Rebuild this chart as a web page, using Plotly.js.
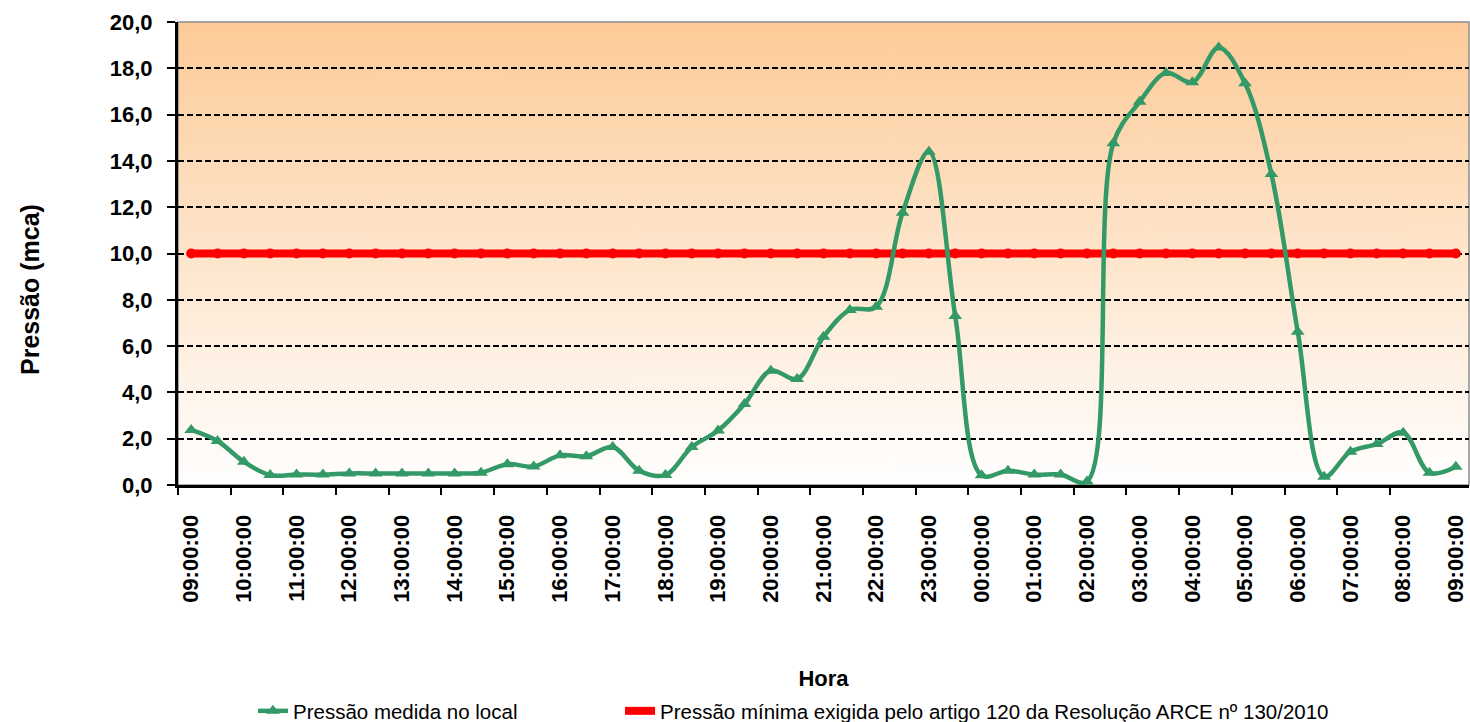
<!DOCTYPE html>
<html>
<head>
<meta charset="utf-8">
<script src="https://cdn.plot.ly/plotly-3.0.1.min.js"></script>
<style>
html,body{margin:0;padding:0;background:#fff;}
#chart{width:1470px;height:722px;}
</style>
</head>
<body>
<div id="chart"></div>
<script>
// Horários das medições (a cada 30 minutos)
var horas = ["09:00:00","09:30:00","10:00:00","10:30:00","11:00:00","11:30:00","12:00:00","12:30:00",
  "13:00:00","13:30:00","14:00:00","14:30:00","15:00:00","15:30:00","16:00:00","16:30:00",
  "17:00:00","17:30:00","18:00:00","18:30:00","19:00:00","19:30:00","20:00:00","20:30:00",
  "21:00:00","21:30:00","22:00:00","22:30:00","23:00:00","23:30:00","00:00:00","00:30:00",
  "01:00:00","01:30:00","02:00:00","02:30:00","03:00:00","03:30:00","04:00:00","04:30:00",
  "05:00:00","05:30:00","06:00:00","06:30:00","07:00:00","07:30:00","08:00:00","08:30:00","09:00:00"];

// Pressão medida no local (mca)
var pressaoMedida = [2.38,1.90,1.00,0.43,0.45,0.45,0.50,0.50,
  0.50,0.50,0.50,0.53,0.90,0.80,1.28,1.24,
  1.64,0.62,0.43,1.64,2.35,3.50,4.94,4.58,
  6.40,7.56,7.70,11.76,14.40,7.30,0.42,0.62,
  0.45,0.45,0.15,14.76,16.55,17.80,17.40,18.90,
  17.35,13.43,6.62,0.36,1.44,1.77,2.26,0.53,0.79];

// Pressão mínima exigida (mca)
var pressaoMinima = [10,10,10,10,10,10,10,10,10,10,10,10,10,10,10,10,
  10,10,10,10,10,10,10,10,10,10,10,10,10,10,10,10,
  10,10,10,10,10,10,10,10,10,10,10,10,10,10,10,10,10];

// Rótulos do eixo X (a cada hora)
var rotulosX = horas.filter(function(h, i){ return i % 2 === 0; });

var idx = horas.map(function(h, i){ return i; });
var tickPos = idx.filter(function(i){ return i % 2 === 0; });
var minorPos = [];
for (var k = 0; k < horas.length - 1; k += 2) { minorPos.push(k - 0.5); }

// Gradient background image
var cv = document.createElement('canvas');
cv.width = 10; cv.height = 400;
var ctx = cv.getContext('2d');
var g = ctx.createLinearGradient(0, 0, 0, 400);
g.addColorStop(0, '#FDCB98');
g.addColorStop(1, '#FFFFFF');
ctx.fillStyle = g;
ctx.fillRect(0, 0, 10, 400);
var bgURL = cv.toDataURL('image/png');

var FONT = 'Arial, "Liberation Sans", sans-serif';

var traces = [
  {
    x: idx, y: pressaoMinima,
    type: 'scatter', mode: 'lines',
    name: 'Pressão mínima exigida pelo artigo 120 da Resolução ARCE nº 130/2010',
    legend: 'legend2',
    line: {color: '#FF0000', width: 8},
    hoverinfo: 'skip'
  },
  {
    x: idx, y: pressaoMinima,
    type: 'scatter', mode: 'markers',
    showlegend: false,
    marker: {color: '#FF0000', size: 10, symbol: 'circle'},
    hoverinfo: 'skip'
  },
  {
    x: idx, y: pressaoMedida,
    type: 'scatter', mode: 'lines+markers',
    name: 'Pressão medida no local',
    legend: 'legend',
    line: {color: '#339966', width: 4.5, shape: 'spline', smoothing: 1},
    marker: {color: '#339966', size: 12, symbol: 'triangle-up'}
  }
];

var legendBase = {
  orientation: 'h',
  xref: 'container', yref: 'container',
  xanchor: 'left', yanchor: 'middle', y: 0.0152,
  font: {family: FONT, size: 20.5, color: '#000000'},
  bgcolor: 'rgba(0,0,0,0)'
};

var layout = {
  width: 1470, height: 722,
  margin: {l: 178, r: 1, t: 22, b: 237},
  paper_bgcolor: '#FFFFFF',
  plot_bgcolor: 'rgba(0,0,0,0)',
  separators: ',.',
  font: {family: FONT, color: '#000000'},
  showlegend: true,
  images: [{
    source: bgURL, xref: 'paper', yref: 'paper',
    x: 0, y: 1, sizex: 1, sizey: 1, sizing: 'stretch',
    xanchor: 'left', yanchor: 'top', layer: 'below'
  }],
  shapes: [{
    type: 'rect', xref: 'paper', yref: 'paper', x0: 0, x1: 1, y0: 0, y1: 1,
    line: {color: '#8C8C8C', width: 1.5}, layer: 'below'
  }],
  annotations: [{
    text: '<b>Pressão (mca)</b>',
    xref: 'paper', yref: 'paper',
    x: -148 / 1291, y: (485 - 290) / 463,
    xanchor: 'center', yanchor: 'middle',
    textangle: -90, showarrow: false,
    font: {family: FONT, size: 25, color: '#000000'}
  }],
  xaxis: {
    range: [-0.5, horas.length - 0.5],
    tickmode: 'array', tickvals: tickPos, ticktext: rotulosX,
    tickangle: -90,
    ticks: '',
    ticklabelstandoff: 18,
    tickfont: {family: FONT, size: 22, color: '#000000', weight: 'bold'},
    showgrid: false, zeroline: false,
    showline: true, linecolor: '#000000', linewidth: 3,
    minor: {tickmode: 'array', tickvals: minorPos, ticks: 'outside', ticklen: 7, tickwidth: 2, tickcolor: '#000000', showgrid: false},
    title: {text: '<b>Hora</b>', font: {family: FONT, size: 22, color: '#000000'}, standoff: 70},
    fixedrange: true
  },
  yaxis: {
    range: [0, 20], dtick: 2, tick0: 0,
    tickformat: '.1f',
    ticks: 'outside', ticklen: 8, tickwidth: 2, tickcolor: '#000000',
    ticklabelstandoff: 10,
    tickfont: {family: FONT, size: 22, color: '#000000', weight: 'bold'},
    showgrid: true, gridcolor: '#000000', gridwidth: 2, griddash: '6px,3px',
    zeroline: false,
    showline: true, linecolor: '#000000', linewidth: 3,
    fixedrange: true
  },
  legend: Object.assign({}, legendBase, {x: 0.1721}),
  legend2: Object.assign({}, legendBase, {x: 0.4218})
};

Plotly.newPlot('chart', traces, layout, {displayModeBar: false, staticPlot: true});
</script>
</body>
</html>
